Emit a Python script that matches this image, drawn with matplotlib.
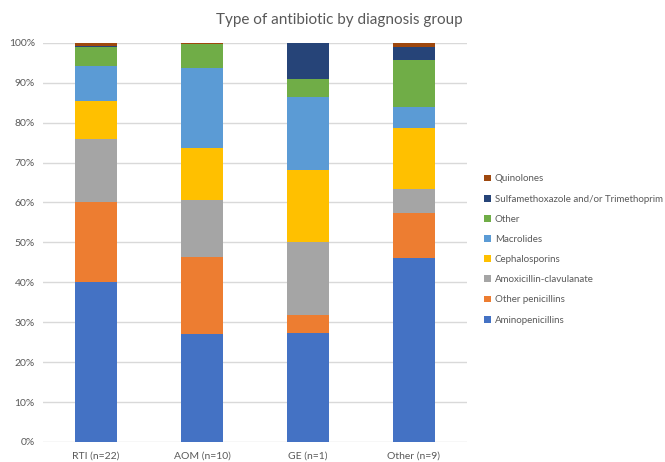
import matplotlib
matplotlib.use('Agg')
import matplotlib.pyplot as plt
import numpy as np
from matplotlib.ticker import PercentFormatter

plt.rcParams['font.family'] = ['Lato', 'DejaVu Sans']

groups = ['RTI (n=22)', 'AOM (n=10)', 'GE (n=1)', 'Other (n=9)']
classes = ['Aminopenicillins', 'Other penicillins', 'Amoxicillin-clavulanate',
           'Cephalosporins', 'Macrolides', 'Other',
           'Sulfamethoxazole and/or Trimethoprim', 'Quinolones']
colors = ['#4472C4', '#ED7D31', '#A5A5A5', '#FFC000', '#5B9BD5', '#70AD47',
          '#264478', '#9E480E']

# share (%) per class, one list per class in the order of groups
aminopenicillins = [40.0, 27.1, 27.3, 46.1]
other_penicillins = [20.0, 19.3, 4.5, 11.3]
amox_clav = [16.0, 14.1, 18.2, 6.0]
cephalosporins = [9.5, 13.2, 18.2, 15.3]
macrolides = [8.6, 20.1, 18.2, 5.3]
other = [4.8, 5.8, 4.5, 11.6]
sulfa_tmp = [0.4, 0.0, 9.1, 3.3]
quinolones = [0.7, 0.4, 0.0, 1.1]

series = [aminopenicillins, other_penicillins, amox_clav, cephalosporins,
          macrolides, other, sulfa_tmp, quinolones]

fig = plt.figure(figsize=(6.65, 4.62), dpi=100)
ax = fig.add_axes([0.065, 0.0433, 0.637, 0.864])

x = np.arange(len(groups))
bottom = np.zeros(len(groups))
handles = []
for name, vals, col in zip(classes, series, colors):
    vals = np.array(vals)
    b = ax.bar(x, vals, 0.4, bottom=bottom, color=col, label=name, zorder=3)
    handles.append(b)
    bottom += vals

ax.set_xlim(-0.5, 3.5)
ax.set_ylim(0, 100)
ax.set_yticks(np.arange(0, 101, 10))
ax.yaxis.set_major_formatter(PercentFormatter(decimals=0))
ax.set_xticks(x)
ax.set_xticklabels(groups)
ax.tick_params(length=0, labelsize=7.5, labelcolor='#595959')
ax.tick_params(axis='y', pad=6)
ax.tick_params(axis='x', pad=7)
ax.grid(axis='y', color='#D9D9D9', linewidth=1, zorder=0)
for s in ax.spines.values():
    s.set_visible(False)

fig.text(0.51, 0.957, 'Type of antibiotic by diagnosis group', ha='center',
         va='center', fontsize=11, color='#595959')

fig.legend(handles[::-1], classes[::-1], loc='center left',
           bbox_to_anchor=(0.715, 0.46), frameon=False, fontsize=7,
           handlelength=0.7, handleheight=0.7, handletextpad=0.4,
           labelspacing=1.15, labelcolor='#595959')

plt.savefig('out.png', dpi=100)
plt.close()
